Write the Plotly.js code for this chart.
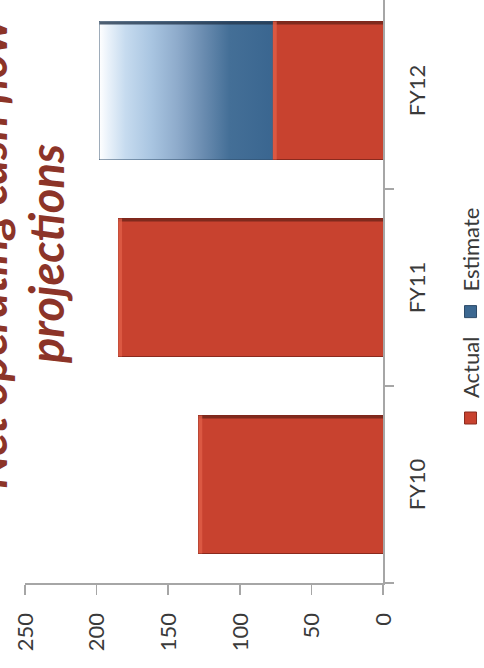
<!DOCTYPE html>
<html>
<head>
<meta charset="utf-8">
<script src="https://cdn.plot.ly/plotly-3.0.1.min.js"></script>
<style>
  html, body { margin: 0; padding: 0; width: 484px; height: 668px; overflow: hidden; background: #ffffff; }
  /* The chart is laid out upright and then turned a quarter turn counter-clockwise. */
  #chart {
    position: absolute; left: 0; top: 0;
    width: 720px; height: 544px;
    transform-origin: 0 0;
    transform: translate(-60px, 712px) rotate(-90deg);
  }
</style>
</head>
<body>
<div id="chart"></div>
<script>
// Net operating cash flow by fiscal year
var categories = ['FY10', 'FY11', 'FY12'];
var actual     = [129, 185, 77];
var estimate   = [null, null, 121];
var valueTicks = [0, 50, 100, 150, 200, 250];
var legendNames = ['Actual', 'Estimate'];
var titleLines = ['Net operating cash flow', 'projections'];

// styling
var BAR_WIDTH = 0.7;
var RED = '#C8422F';
var BLUE = '#3C6891';
var AXIS_GREY = '#A6A6A6';
var TEXT = '#3a3a3a';
var TITLE_RED = '#8C3428';
var FONT = 'Lato, "Open Sans", sans-serif';

var pos = categories.map(function (c, i) { return i; });

var traces = [
  {
    type: 'bar', name: legendNames[0], x: pos, y: actual, width: BAR_WIDTH,
    marker: { color: RED, line: { color: '#8a2a1e', width: 1 } },
    hoverinfo: 'skip'
  },
  {
    type: 'bar', name: legendNames[1], x: pos, y: estimate, width: BAR_WIDTH,
    marker: { color: BLUE, line: { color: '#2c4a68', width: 1 } },
    hoverinfo: 'skip'
  }
];

// gradient face of each estimate segment, fading to white at its top
pos.forEach(function (p, i) {
  if (estimate[i] == null) return;
  var lo = actual[i], hi = actual[i] + estimate[i];
  var l = p - BAR_WIDTH / 2, r = p + BAR_WIDTH / 2;
  traces.push({
    type: 'scatter', mode: 'lines', showlegend: false, hoverinfo: 'skip',
    x: [l, r, r, l, l], y: [lo, lo, hi, hi, lo],
    line: { width: 0 },
    fill: 'toself',
    fillgradient: {
      type: 'vertical', start: lo, stop: hi,
      colorscale: [
        [0, '#3A6690'], [0.25, '#446F97'], [0.4, '#6A8CB0'], [0.55, '#8EABCB'],
        [0.7, '#A9C5E1'], [0.85, '#C6DBEF'], [0.95, '#EAF2FA'], [1, '#FFFFFF']
      ]
    }
  });
});

// bevel edges on each stacked segment
var shapes = [];
pos.forEach(function (p, i) {
  var segs = [[0, actual[i], '#6E2419', '#E2604A']];
  if (estimate[i] != null) segs.push([actual[i], actual[i] + estimate[i], '#24384F', null]);
  segs.forEach(function (s) {
    shapes.push({
      type: 'rect', layer: 'above', xref: 'x', yref: 'y',
      xsizemode: 'pixel', xanchor: p + BAR_WIDTH / 2, x0: -3, x1: 0,
      y0: s[0], y1: s[1], fillcolor: s[2], line: { width: 0 }, opacity: 0.8
    });
    if (s[3]) {
      shapes.push({
        type: 'rect', layer: 'above', xref: 'x', yref: 'y',
        ysizemode: 'pixel', yanchor: s[1], y0: -4, y1: 0,
        x0: p - BAR_WIDTH / 2, x1: p + BAR_WIDTH / 2,
        fillcolor: s[3], line: { width: 0 }, opacity: 0.75
      });
    }
  });
});

var titleFont = { family: FONT, size: 47, color: TITLE_RED, weight: 'bold', style: 'italic' };

var layout = {
  width: 720, height: 544,
  margin: { l: 129, r: 0, t: 85, b: 101 },
  paper_bgcolor: '#ffffff', plot_bgcolor: '#ffffff',
  barmode: 'stack',
  hovermode: false,
  font: { family: FONT, size: 22, color: TEXT },
  xaxis: {
    range: [-0.5, categories.length - 0.5],
    tickmode: 'array', tickvals: pos, ticktext: categories,
    ticks: '', showgrid: false, zeroline: false,
    showline: true, linecolor: AXIS_GREY, linewidth: 1.5,
    ticklabelstandoff: 14,
    tickfont: { family: FONT, size: 22, color: TEXT },
    minor: {
      tickmode: 'array',
      tickvals: pos.map(function (p) { return p - 0.5; }).concat([pos.length - 0.5]),
      ticks: 'outside', ticklen: 9, tickwidth: 1.5, tickcolor: AXIS_GREY, showgrid: false
    }
  },
  yaxis: {
    range: [valueTicks[0], valueTicks[valueTicks.length - 1]],
    tickmode: 'array', tickvals: valueTicks,
    ticks: 'outside', ticklen: 10, tickwidth: 1.5, tickcolor: AXIS_GREY,
    showline: true, linecolor: AXIS_GREY, linewidth: 1.5,
    showgrid: false, zeroline: false,
    ticklabelstandoff: 14,
    tickfont: { family: FONT, size: 22, color: TEXT }
  },
  legend: {
    orientation: 'h', traceorder: 'normal',
    x: 0.445, xanchor: 'center',
    yref: 'container', y: 0.063, yanchor: 'top',
    font: { family: FONT, size: 22, color: TEXT },
    itemwidth: 30, bgcolor: 'rgba(0,0,0,0)'
  },
  annotations: [
    { xref: 'paper', yref: 'paper', x: 0.557, y: 1.10, xanchor: 'center', yanchor: 'middle',
      text: titleLines[0], showarrow: false, font: titleFont },
    { xref: 'paper', yref: 'paper', x: 0.557, y: 0.94, xanchor: 'center', yanchor: 'middle',
      text: titleLines[1], showarrow: false, font: titleFont }
  ],
  shapes: shapes
};

Plotly.newPlot('chart', traces, layout, { staticPlot: true, displayModeBar: false });
</script>
</body>
</html>
